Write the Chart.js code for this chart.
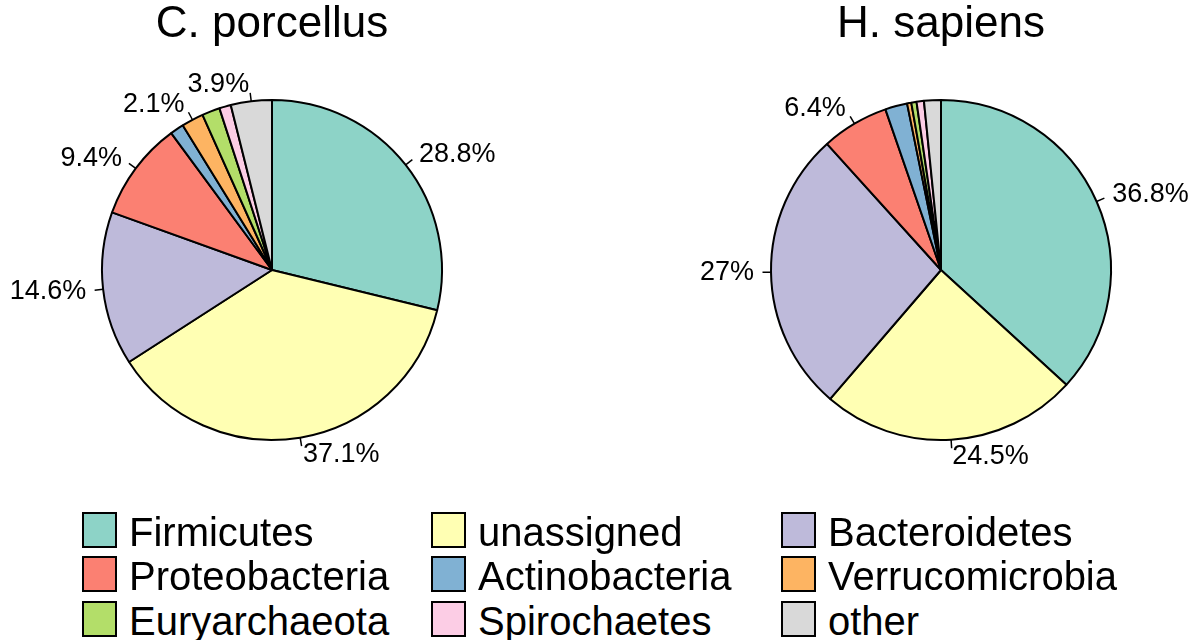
<!DOCTYPE html>
<html>
<head>
<meta charset="utf-8">
<script src="https://cdn.jsdelivr.net/npm/chart.js@4/dist/chart.umd.min.js"></script>
<style>
  body { margin: 0; background: #fff; width: 1200px; height: 640px; position: relative; overflow: hidden;
         font-family: "Liberation Sans", Arial, sans-serif; }
  .pie { position: absolute; top: 0; }
  #legend { position: absolute; left: 0; top: 0; }
  .item { position: absolute; height: 36px; }
  .box { position: absolute; width: 31px; height: 32px; border: 2px solid #000; }
  .txt { position: absolute; font-size: 40px; line-height: 40px; color: #000; white-space: nowrap; }
</style>
</head>
<body>
<canvas id="pie1" class="pie" style="left:0px"></canvas>
<canvas id="pie2" class="pie" style="left:682px"></canvas>
<div id="legend"></div>
<script>
// categories and colours (shared by both pies)
const categories = ['Firmicutes', 'unassigned', 'Bacteroidetes', 'Proteobacteria', 'Actinobacteria',
                    'Verrucomicrobia', 'Euryarchaeota', 'Spirochaetes', 'other'];
const colors = ['#8DD3C7', '#FFFFB3', '#BEBADA', '#FB8072', '#80B1D3', '#FDB462', '#B3DE69', '#FCCDE5', '#D9D9D9'];

// percentages
const porcellusValues = [28.8, 37.1, 14.6, 9.4, 1.3, 2.1, 1.7, 1.1, 3.9];
const sapiensValues   = [36.8, 24.5, 27.0, 6.4, 2.1, 0.4, 0.5, 0.7, 1.6];

// only some slices get a label
const porcellusLabels = ['28.8%', '37.1%', '14.6%', '9.4%', '', '2.1%', '', '', '3.9%'];
const sapiensLabels   = ['36.8%', '24.5%', '27%', '6.4%', '', '', '', '', ''];

const titles = ['C. porcellus', 'H. sapiens'];

const FONT = '"Liberation Sans", Arial, sans-serif';

// draws title + outside labels with small tick lines (like R's pie())
const pieLabels = {
    id: 'pieLabels',
    afterDraw(chart, args, opts) {
        const ctx = chart.ctx;
        const meta = chart.getDatasetMeta(0);
        ctx.save();
        ctx.fillStyle = '#000';
        ctx.strokeStyle = '#000';
        ctx.lineWidth = 1.5;
        ctx.font = '27px ' + FONT;
        ctx.textBaseline = 'middle';
        meta.data.forEach((arc, i) => {
            const text = opts.labels[i];
            if (!text) return;
            const mid = (arc.startAngle + arc.endAngle) / 2;
            const r = arc.outerRadius;
            const cos = Math.cos(mid), sin = Math.sin(mid);
            ctx.beginPath();
            ctx.moveTo(arc.x + r * cos, arc.y + r * sin);
            ctx.lineTo(arc.x + 1.05 * r * cos, arc.y + 1.05 * r * sin);
            ctx.stroke();
            ctx.textAlign = cos < 0 ? 'right' : 'left';
            ctx.fillText(text, arc.x + 1.1 * r * cos, arc.y + 1.1 * r * sin);
        });
        // title
        const c = meta.data[0];
        ctx.font = '44px ' + FONT;
        ctx.textAlign = 'center';
        ctx.textBaseline = 'alphabetic';
        ctx.fillText(opts.title, c.x, 37);
        ctx.restore();
    }
};

function makePie(id, values, labels, title, width, padX) {
    const canvas = document.getElementById(id);
    canvas.width = width;
    canvas.height = 540;
    canvas.style.width = width + 'px';
    canvas.style.height = '540px';
    return new Chart(canvas.getContext('2d'), {
        type: 'pie',
        data: {
            labels: categories,
            datasets: [{
                data: values,
                backgroundColor: colors,
                borderColor: '#000',
                borderWidth: 2
            }]
        },
        options: {
            responsive: false,
            animation: false,
            radius: 170,
            layout: { padding: { left: padX, right: padX, top: 90, bottom: 90 } },
            events: [],
            plugins: {
                legend: { display: false },
                tooltip: { enabled: false },
                pieLabels: { labels: labels, title: title }
            }
        },
        plugins: [pieLabels]
    });
}

makePie('pie1', porcellusValues, porcellusLabels, titles[0], 544, 92);
makePie('pie2', sapiensValues, sapiensLabels, titles[1], 518, 79);

// legend: 3 columns, filled row by row
const legend = document.getElementById('legend');
const colX = [82, 431, 781];
const rowY = [512, 556, 601];
categories.forEach((name, i) => {
    const col = i % 3, row = Math.floor(i / 3);
    const item = document.createElement('div');
    item.className = 'item';
    item.style.left = colX[col] + 'px';
    item.style.top = rowY[row] + 'px';
    const box = document.createElement('div');
    box.className = 'box';
    box.style.background = colors[i];
    const txt = document.createElement('div');
    txt.className = 'txt';
    txt.style.left = '47px';
    txt.style.top = '0px';
    txt.textContent = name;
    item.appendChild(box);
    item.appendChild(txt);
    legend.appendChild(item);
});
</script>
</body>
</html>
